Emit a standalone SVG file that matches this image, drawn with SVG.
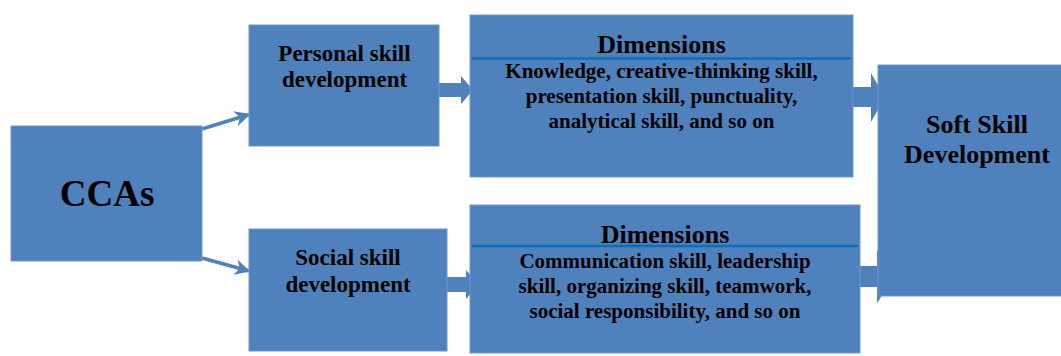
<svg xmlns="http://www.w3.org/2000/svg" width="1061" height="356" viewBox="0 0 1061 356">
  <defs>
    <style>
      .box { fill: #4F81BD; stroke: #6F97CA; stroke-width: 1; }
      .blk { fill: #4F81BD; }
      .t { font-family: "Liberation Serif", "Times New Roman", serif; font-weight: bold; fill: #000; text-anchor: middle; }
      .sep { stroke: #0A6EC0; stroke-width: 2.5; }
      .conn { stroke: #4F81BD; stroke-width: 3.5; fill: none; }
    </style>
    <marker id="ah" viewBox="0 0 10 10" refX="9" refY="5" markerWidth="4.5" markerHeight="4.5" markerUnits="strokeWidth" orient="auto">
      <path d="M0,0 L10,5 L0,10 L3,5 Z" fill="#4F81BD"/>
    </marker>
  </defs>

  <g id="connectors">
    <line class="conn" x1="202" y1="129" x2="249" y2="114.5" marker-end="url(#ah)"/>
    <line class="conn" x1="202" y1="258" x2="249" y2="271" marker-end="url(#ah)"/>
    <polygon class="blk" points="438,83 461,83 461,76 473,90 461,104 461,97 438,97"/>
    <polygon class="blk" points="446,277 466,277 466,270 479,284.5 466,299 466,292 446,292"/>
    <polygon class="blk" points="852,87 871,87 871,73 885,97.5 871,122 871,107 852,107"/>
    <polygon class="blk" points="859,266 877,266 877,250 895,276.5 877,303 877,287 859,287"/>
  </g>

  <g id="ccas">
    <rect class="box" x="11" y="126" width="191" height="135"/>
    <text class="t" x="107" y="206" font-size="37">CCAs</text>
  </g>

  <g id="personal">
    <rect class="box" x="249" y="25" width="190" height="121"/>
    <text class="t" x="344.5" y="61" font-size="23">Personal skill</text>
    <text class="t" x="344.5" y="87" font-size="23">development</text>
  </g>

  <g id="social">
    <rect class="box" x="249" y="229" width="198" height="122"/>
    <text class="t" x="348" y="265" font-size="23">Social skill</text>
    <text class="t" x="348" y="292" font-size="23">development</text>
  </g>

  <g id="dims-personal">
    <rect class="box" x="470" y="15" width="383" height="162"/>
    <text class="t" x="661.5" y="53" font-size="26">Dimensions</text>
    <line class="sep" x1="472" y1="58.5" x2="851" y2="58.5"/>
    <text class="t" x="661.5" y="78" font-size="21">Knowledge, creative-thinking skill,</text>
    <text class="t" x="661.5" y="103" font-size="21">presentation skill, punctuality,</text>
    <text class="t" x="661.5" y="128" font-size="21">analytical skill, and so on</text>
  </g>

  <g id="dims-social">
    <rect class="box" x="470" y="205" width="390" height="148"/>
    <text class="t" x="665" y="243" font-size="26">Dimensions</text>
    <line class="sep" x1="472" y1="246" x2="858" y2="246"/>
    <text class="t" x="665" y="268" font-size="21">Communication skill, leadership</text>
    <text class="t" x="665" y="293" font-size="21">skill, organizing skill, teamwork,</text>
    <text class="t" x="665" y="318" font-size="21">social responsibility, and so on</text>
  </g>

  <g id="soft">
    <rect class="box" x="878" y="65" width="186" height="231"/>
    <text class="t" x="977" y="133" font-size="26">Soft Skill</text>
    <text class="t" x="977" y="163" font-size="26">Development</text>
  </g>
</svg>
